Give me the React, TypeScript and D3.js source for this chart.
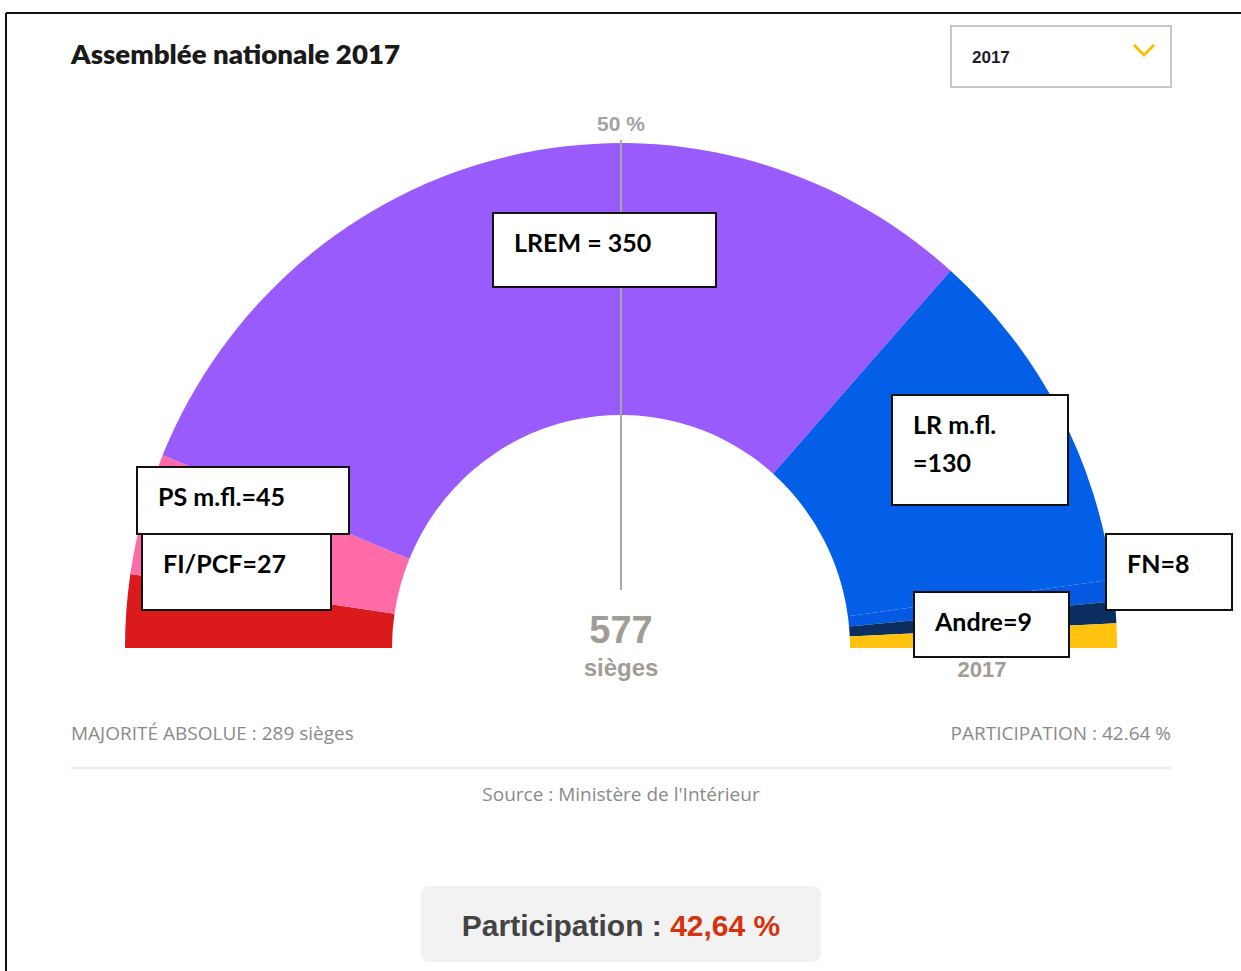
import React from "react";
import * as d3 from "d3";

// ---- Data ----
const parties = ["FI/PCF", "PS m.fl.", "LREM", "LR m.fl.", "Autres", "FN", "Andre"];
const seats = [27, 45, 350, 130, 8, 8, 9];
const colors = ["#db1a1c", "#ff6ba7", "#995bfb", "#035ee8", "#0559e3", "#0b2d5f", "#ffc20e"];
const totalSeats = 577;
const majority = 289;
const participation = "42.64";
const participationFr = "42,64";
const yearLabel = "2017";

// annotation text built from data
const annText = [
  [`LREM = ${seats[2]}`],
  ["LR m.fl.", `=${seats[3]}`],
  [`PS m.fl.=${seats[1]}`],
  [`FI/PCF=${seats[0]}`],
  [`FN=${seats[5]}`],
  [`Andre=${seats[6]}`],
];
// annotation box layout
const annBoxes = [
  { x: 493, y: 213, w: 223, h: 74 },
  { x: 892, y: 395, w: 176, h: 110 },
  { x: 137, y: 467, w: 212, h: 67 },
  { x: 142, y: 534, w: 189, h: 76 },
  { x: 1106, y: 534, w: 126, h: 76 },
  { x: 914, y: 592, w: 155, h: 65 },
];

export default function App() {
  const cx = 621;
  const cy = 648;
  const pie = d3
    .pie<number>()
    .value((d) => d)
    .sort(null)
    .startAngle(-Math.PI / 2)
    .endAngle(Math.PI / 2);
  const arcs = pie(seats);
  const arc = d3.arc<d3.PieArcDatum<number>>().innerRadius(229).outerRadius(496);
  const sansNum = "'Liberation Sans', Arial, sans-serif";
  const annFont = "Lato, 'Open Sans', sans-serif";
  const ptFont = "'Open Sans', 'Noto Sans', sans-serif";

  return (
    <svg
      width={1241}
      height={971}
      style={{ position: "absolute", left: 0, top: 0, background: "#fff" }}
    >
      <rect x={0} y={0} width={1241} height={971} fill="#fff" />
      {/* frame */}
      <line x1={6} y1={13} x2={1241} y2={13} stroke="#111" strokeWidth={2} />
      <line x1={6} y1={13} x2={6} y2={971} stroke="#111" strokeWidth={2} />

      {/* title */}
      <text
        x={71}
        y={64}
        fontFamily="Lato, sans-serif"
        fontWeight={800}
        fontSize={27}
        fill="#1a1a1a"
        textLength={329}
        lengthAdjust="spacingAndGlyphs"
      >
        Assemblée nationale 2017
      </text>

      {/* dropdown */}
      <rect x={951} y={26} width={220} height={61} fill="#fff" stroke="#c6c6c6" strokeWidth={2} />
      <text x={972} y={63} fontFamily={sansNum} fontWeight={700} fontSize={17} fill="#1c1c2a">
        {yearLabel}
      </text>
      <path d="M1134,45 L1144,55 L1154,45" fill="none" stroke="#f5bf00" strokeWidth={3} />

      {/* half donut */}
      <g transform={`translate(${cx},${cy}) scale(1,1.018)`}>
        {arcs.map((a, i) => (
          <path key={parties[i]} d={arc(a) || ""} fill={colors[i]} />
        ))}
      </g>

      {/* 50% line */}
      <line x1={cx} y1={140} x2={cx} y2={590} stroke="#a8a8a8" strokeWidth={2} />
      <text x={cx} y={131} textAnchor="middle" fontFamily={sansNum} fontWeight={700} fontSize={21} fill="#a3a3a3">
        50 %
      </text>

      {/* center text */}
      <text x={cx} y={643} textAnchor="middle" fontFamily={sansNum} fontWeight={700} fontSize={38} fill="#a19d96">
        {totalSeats}
      </text>
      <text x={cx} y={676} textAnchor="middle" fontFamily={sansNum} fontWeight={700} fontSize={24} fill="#a19d96">
        sièges
      </text>
      <text x={982} y={677} textAnchor="middle" fontFamily={sansNum} fontWeight={700} fontSize={22} fill="#a19d96">
        {yearLabel}
      </text>

      {/* annotations */}
      {annBoxes.map((b, i) => (
        <g key={i}>
          <rect x={b.x} y={b.y} width={b.w} height={b.h} fill="#fff" stroke="#111" strokeWidth={2} />
          {annText[i].map((t, j) => (
            <text
              key={j}
              x={b.x + 21}
              y={b.y + 39 + j * 38}
              fontFamily={annFont}
              fontWeight={700}
              fontSize={25}
              fill="#000"
            >
              {t}
            </text>
          ))}
        </g>
      ))}

      {/* footer */}
      <text x={71} y={740} fontFamily={ptFont} fontSize={19} fill="#8a8a8a">
        {`MAJORITÉ ABSOLUE : ${majority} sièges`}
      </text>
      <text x={1171} y={740} textAnchor="end" fontFamily={ptFont} fontSize={19} fill="#8a8a8a">
        {`PARTICIPATION : ${participation} %`}
      </text>
      <line x1={71} y1={768} x2={1171} y2={768} stroke="#ececec" strokeWidth={2} />
      <text x={cx} y={801} textAnchor="middle" fontFamily={ptFont} fontSize={19} fill="#8a8a8a">
        Source : Ministère de l'Intérieur
      </text>

      {/* participation box */}
      <rect x={421} y={886} width={400} height={76} rx={8} fill="#f2f2f2" />
      <text x={cx} y={936} textAnchor="middle" fontFamily={sansNum} fontWeight={700} fontSize={30}>
        <tspan fill="#444">Participation : </tspan>
        <tspan fill="#d5330f">{participationFr} %</tspan>
      </text>
    </svg>
  );
}
